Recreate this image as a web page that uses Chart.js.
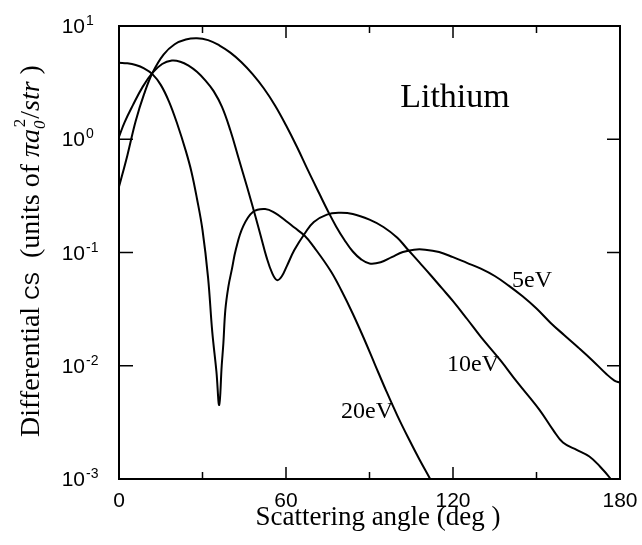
<!DOCTYPE html>
<html>
<head>
<meta charset="utf-8">
<script src="https://cdn.jsdelivr.net/npm/chart.js@4.4.1/dist/chart.umd.min.js"></script>
<style>
  html, body { margin: 0; padding: 0; background: #fff; }
  #wrap { width: 642px; height: 545px; }
</style>
</head>
<body>
<div id="wrap"><canvas id="c" width="642" height="545"></canvas></div>
<script>
// ---- data ----
const angles5 = [0, 3, 6, 9, 12, 16, 20, 24, 28, 32, 36, 40, 44, 48, 52, 56, 60, 64, 68, 72, 75, 78, 81, 84, 87, 90, 94, 98, 102, 106, 110, 115, 120, 125, 130, 135, 140, 145, 150, 155, 160, 165, 170, 175, 178, 180];
const cs5 = [0.38, 0.72, 1.45, 2.5, 3.85, 5.6, 6.9, 7.6, 7.8, 7.5, 6.76, 5.82, 4.79, 3.76, 2.82, 2.0, 1.33, 0.85, 0.525, 0.33, 0.234, 0.17, 0.129, 0.102, 0.087, 0.080, 0.082, 0.091, 0.101, 0.106, 0.106, 0.101, 0.091, 0.081, 0.072, 0.062, 0.051, 0.041, 0.032, 0.024, 0.0186, 0.0145, 0.0112, 0.0085, 0.0074, 0.0071];

const angles10 = [0, 2, 5, 8.5, 12, 15.5, 19, 22, 25, 28, 31, 34, 37, 40, 43, 46, 49, 51, 53, 55, 56.8, 58.5, 60.3, 63, 66.8, 70, 74.7, 79, 84, 90, 95, 100, 103.5, 108, 112, 116, 120, 125, 130, 137, 143, 151, 156, 159.5, 164.6, 169, 172.8, 176.4, 178];
const cs10 = [1.05, 1.41, 2.0, 2.9, 3.85, 4.62, 4.95, 4.84, 4.47, 3.94, 3.31, 2.66, 1.93, 1.20, 0.676, 0.38, 0.209, 0.138, 0.091, 0.066, 0.057, 0.0617, 0.0759, 0.105, 0.148, 0.186, 0.216, 0.224, 0.219, 0.195, 0.168, 0.135, 0.108, 0.0813, 0.063, 0.0484, 0.0372, 0.026, 0.018, 0.0112, 0.0072, 0.0041, 0.0027, 0.0021, 0.0018, 0.00158, 0.00129, 0.00102, 0.00087];

const angles20 = [0, 3, 6, 9, 12, 15, 18, 21, 24, 26, 28, 30, 32, 33.5, 35, 36, 36.9, 37.5, 38.2, 39.3, 40.6, 42, 44.6, 48.2, 52.5, 56, 60, 63, 66.8, 70, 76, 80, 84, 88, 92, 96, 100, 104, 108, 111.8, 114];
const cs20 = [4.74, 4.68, 4.52, 4.22, 3.76, 3.02, 2.14, 1.35, 0.79, 0.52, 0.30, 0.158, 0.060, 0.020, 0.0089, 0.0045, 0.010, 0.0158, 0.031, 0.050, 0.072, 0.107, 0.17, 0.229, 0.242, 0.224, 0.19, 0.166, 0.14, 0.112, 0.069, 0.0457, 0.0288, 0.0174, 0.0102, 0.0060, 0.00363, 0.00229, 0.00148, 0.0010, 0.00079];

const seriesLabels = ['5eV', '10eV', '20eV'];
const xTickValues = [0, 60, 120, 180];
const xMinorTicks = [30, 90, 150];
const yTickValues = [10, 1, 0.1, 0.01, 0.001];
const plotTitle = 'Lithium';
const xTitle = 'Scattering angle (deg )';

function pts(xs, ys) { return xs.map((a, i) => ({ x: a, y: ys[i] })); }

const SERIF = '"Liberation Serif", "Times New Roman", serif';
const SANS = '"Liberation Sans", Arial, sans-serif';

const decorPlugin = {
  id: 'decor',
  afterDraw(chart) {
    const ctx = chart.ctx;
    const a = chart.chartArea;
    const xs = chart.scales.x, ys = chart.scales.y;
    ctx.save();
    ctx.strokeStyle = '#000';
    ctx.fillStyle = '#000';
    // frame
    ctx.lineWidth = 2;
    ctx.strokeRect(a.left, a.top, a.right - a.left, a.bottom - a.top);
    // x ticks (inward) bottom and top
    ctx.lineWidth = 1.5;
    const xt = xTickValues.concat(xMinorTicks);
    xt.forEach(v => {
      if (v <= xs.min || v >= xs.max) return;
      const px = xs.getPixelForValue(v);
      const len = xMinorTicks.includes(v) ? 7 : 12;
      ctx.beginPath();
      ctx.moveTo(px, a.bottom); ctx.lineTo(px, a.bottom - len);
      ctx.moveTo(px, a.top); ctx.lineTo(px, a.top + len);
      ctx.stroke();
    });
    // y ticks (inward) left and right
    yTickValues.forEach(v => {
      if (v <= ys.min * 1.0001 || v >= ys.max * 0.9999) return;
      const py = ys.getPixelForValue(v);
      ctx.beginPath();
      ctx.moveTo(a.left, py); ctx.lineTo(a.left + 14, py);
      ctx.moveTo(a.right, py); ctx.lineTo(a.right - 13, py);
      ctx.stroke();
    });
    // y tick labels 10^n
    yTickValues.forEach(v => {
      const py = ys.getPixelForValue(v);
      const e = Math.round(Math.log10(v));
      ctx.textBaseline = 'alphabetic';
      ctx.font = '21px ' + SANS;
      ctx.textAlign = 'right';
      ctx.fillText('10', 85, py + 7);
      ctx.font = '14px ' + SANS;
      ctx.textAlign = 'left';
      ctx.fillText(e < 0 ? '-' + (-e) : String(e), 86, py - 1);
    });
    // x axis title
    ctx.font = '27px ' + SERIF;
    ctx.textAlign = 'center';
    ctx.textBaseline = 'alphabetic';
    ctx.fillText(xTitle, 378, 525);
    // y axis title (rich text, rotated)
    const segs = [
      { t: 'Differential ', f: '28px ' + SERIF, dy: 0 },
      { t: 'CS', f: '20px ' + SANS, dy: 0 },
      { t: '  (units of ', f: '28px ' + SERIF, dy: 0 },
      { t: '\u03C0a', f: 'italic 28px ' + SERIF, dy: 0 },
      { t: '0', f: 'italic 17px ' + SERIF, dy: 6, adv: 0.2 },
      { t: '2', f: '17px ' + SERIF, dy: -14 },
      { t: '/', f: '28px ' + SERIF, dy: 0 },
      { t: 'str', f: 'italic 28px ' + SERIF, dy: 0 },
      { t: ' )', f: '28px ' + SERIF, dy: 0 }
    ];
    let total = 0;
    segs.forEach(s => { ctx.font = s.f; s.w = ctx.measureText(s.t).width; s.step = s.adv !== undefined ? s.w * s.adv : s.w; total += s.step; });
    ctx.save();
    ctx.translate(39, 251);
    ctx.rotate(-Math.PI / 2);
    ctx.textAlign = 'left';
    ctx.textBaseline = 'alphabetic';
    let x0 = -total / 2;
    segs.forEach(s => { ctx.font = s.f; ctx.fillText(s.t, x0, s.dy); x0 += s.step; });
    ctx.restore();
    // annotations placed in data coordinates
    const notes = [
      { t: plotTitle, x: 120.7, y: 2.3, f: '34px ' + SERIF },
      { t: seriesLabels[0], x: 148.4, y: 0.056, f: '24px ' + SERIF },
      { t: seriesLabels[1], x: 127.2, y: 0.0102, f: '24px ' + SERIF },
      { t: seriesLabels[2], x: 89.1, y: 0.0039, f: '24px ' + SERIF }
    ];
    ctx.textAlign = 'center';
    ctx.textBaseline = 'middle';
    notes.forEach(n => {
      ctx.font = n.f;
      ctx.fillText(n.t, xs.getPixelForValue(n.x), ys.getPixelForValue(n.y));
    });
    ctx.restore();
  }
};

const lineStyle = { borderColor: '#000', borderWidth: 2, pointRadius: 0, fill: false, tension: 0.4 };

new Chart(document.getElementById('c'), {
  type: 'line',
  data: {
    datasets: [
      Object.assign({ label: seriesLabels[0], data: pts(angles5, cs5) }, lineStyle),
      Object.assign({ label: seriesLabels[1], data: pts(angles10, cs10) }, lineStyle),
      Object.assign({ label: seriesLabels[2], data: pts(angles20, cs20) }, lineStyle)
    ]
  },
  options: {
    responsive: false,
    devicePixelRatio: 1,
    animation: false,
    layout: { padding: { left: 0, top: 26, right: 22, bottom: 0 } },
    plugins: { legend: { display: false }, tooltip: { enabled: false } },
    scales: {
      x: {
        type: 'linear', min: 0, max: 180,
        afterBuildTicks: (axis) => { axis.ticks = xTickValues.map(v => ({ value: v })); },
        ticks: { color: '#000', font: { family: SANS, size: 21 }, padding: 10, maxRotation: 0 },
        grid: { display: false, drawTicks: false },
        border: { display: false },
        afterFit: (s) => { s.height = 66; s.paddingLeft = 0; s.paddingRight = 0; }
      },
      y: {
        type: 'logarithmic', min: 0.001, max: 10,
        afterBuildTicks: (axis) => { axis.ticks = yTickValues.map(v => ({ value: v })); },
        ticks: { display: false },
        grid: { display: false, drawTicks: false },
        border: { display: false },
        afterFit: (s) => { s.width = 119; s.paddingTop = 0; s.paddingBottom = 0; }
      }
    }
  },
  plugins: [decorPlugin]
});
</script>
</body>
</html>
